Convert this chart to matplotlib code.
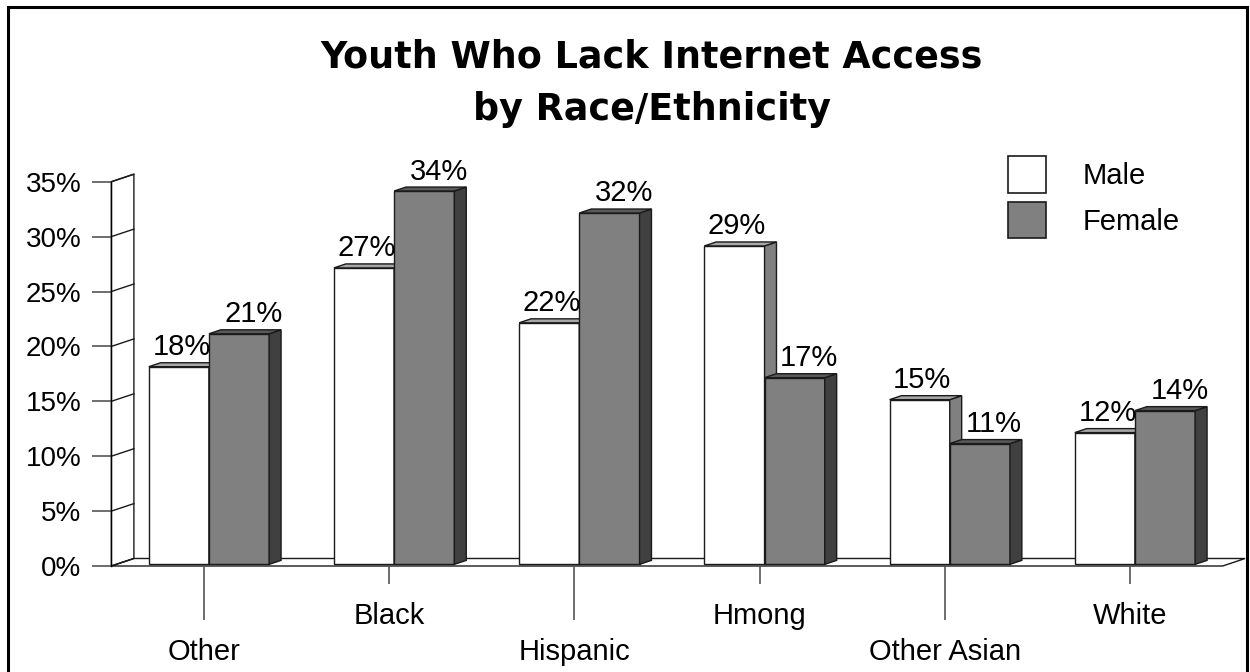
import matplotlib
matplotlib.use('Agg')
import matplotlib.pyplot as plt
from matplotlib.patches import Polygon, Patch, Rectangle
import numpy as np

# ---------------- data ----------------
categories = ['Other', 'Black', 'Hispanic', 'Hmong', 'Other Asian', 'White']
male = [18, 27, 22, 29, 15, 12]
female = [21, 34, 32, 17, 11, 14]
series_names = ['Male', 'Female']
y_ticks = [0, 5, 10, 15, 20, 25, 30, 35]
y_tick_labels = [f'{v}%' for v in y_ticks]
title_lines = ['Youth Who Lack Internet Access', 'by Race/Ethnicity']

# ---------------- style ----------------
plt.rcParams['font.family'] = ['Liberation Sans', 'DejaVu Sans']
W, H = 1250, 672
EDGE = '#1a1a1a'
TICKC = '#555555'
front_colors = ['#ffffff', '#808080']
top_colors = ['#a8a8a8', '#5a5a5a']
side_colors = ['#808080', '#404040']

fig = plt.figure(figsize=(W / 100, H / 100), dpi=100)
ax = fig.add_axes([111.4 / W, (H - 566) / H, 1111.2 / W, 384.3 / H])
ax.set_xlim(-0.5, 5.5)
ax.set_ylim(0, 35)

DX, DY = 0.1215, 0.683   # projected full depth (x units, percent)
F0, F1 = 0.22, 0.75      # depth range occupied by bars
BW = 0.325               # bar width

x0, x1 = ax.get_xlim()
ytop = ax.get_ylim()[1]

# back wall and floor
ax.add_patch(Polygon([(x0, 0), (x0, ytop), (x0 + DX, ytop + DY), (x0 + DX, DY)],
                     closed=True, fc='white', ec=EDGE, lw=1, clip_on=False, zorder=1))
ax.add_patch(Polygon([(x0, 0), (x1, 0), (x1 + DX, DY), (x0 + DX, DY)],
                     closed=True, fc='white', ec=EDGE, lw=1, clip_on=False, zorder=1))
for v in y_ticks:
    ax.plot([x0, x0 + DX], [v, v + DY], color=EDGE, lw=1, clip_on=False, zorder=1.5)

# bars
idx = np.arange(len(categories))
bdx = (F1 - F0) * DX
bdy = (F1 - F0) * DY
label_dx = [1.9, 10.3]
for s, vals in enumerate([male, female]):
    xs = idx - BW + s * BW + F0 * DX
    bars = ax.bar(xs, vals, width=BW, bottom=F0 * DY, align='edge',
                  fc=front_colors[s], ec=EDGE, lw=1, zorder=3 + s, clip_on=False)
    for rect, v in zip(bars, vals):
        xl = rect.get_x()
        w = rect.get_width()
        yb = rect.get_y()
        yt = yb + rect.get_height()
        xr = xl + w
        ax.add_patch(Polygon([(xr, yb), (xr, yt), (xr + bdx, yt + bdy), (xr + bdx, yb + bdy)],
                             closed=True, fc=side_colors[s], ec=EDGE, lw=1,
                             zorder=3 + s, clip_on=False))
        ax.add_patch(Polygon([(xl, yt), (xr, yt), (xr + bdx, yt + bdy), (xl + bdx, yt + bdy)],
                             closed=True, fc=top_colors[s], ec=EDGE, lw=1,
                             zorder=3 + s, clip_on=False))
        ax.annotate(f'{v}%', xy=(xl + w / 2, yt), xytext=(label_dx[s], 8.3),
                    textcoords='offset points', ha='center', va='baseline',
                    fontsize=21, color='black', zorder=6)

# axes / ticks
for side in ['top', 'right', 'bottom']:
    ax.spines[side].set_visible(False)
ax.spines['left'].set_color('black')
ax.spines['left'].set_linewidth(1)
ax.spines['left'].set_zorder(2)
ax.set_facecolor('none')

ax.set_yticks(y_ticks, y_tick_labels)
ax.tick_params(axis='y', length=13.7, width=1.2, color=TICKC, pad=7.9, labelsize=20)

ax.set_xticks(idx[0::2], [categories[i] for i in idx[0::2]])
ax.set_xticks(idx[1::2], [categories[i] for i in idx[1::2]], minor=True)
ax.tick_params(axis='x', which='major', length=38.9, width=1.2, color=TICKC, pad=13, labelsize=21)
ax.tick_params(axis='x', which='minor', length=13, width=1.2, color=TICKC, pad=13, labelsize=21)

# legend
handles = [Patch(fc=front_colors[0], ec=EDGE, lw=1.2), Patch(fc=front_colors[1], ec=EDGE, lw=1.2)]
fig.legend(handles=handles, labels=series_names, loc='upper left',
           bbox_to_anchor=(1008 / W, 1 - 156 / H), frameon=False, fontsize=21,
           handlelength=1.3, handleheight=1.56, handletextpad=1.27, labelspacing=0.31,
           borderpad=0, borderaxespad=0)

# title
for line, base in zip(title_lines, [68, 120]):
    fig.text(652 / W, 1 - base / H, line, ha='center', va='baseline',
             fontsize=26.3, fontweight='bold', family=['DejaVu Sans'])

# outer border
fig.add_artist(Rectangle((7.5 / W, -0.1), (1246.5 - 7.5) / W, 1 - 6.5 / H + 0.1,
                         transform=fig.transFigure, fill=False, lw=2.2, ec='black'))

fig.savefig('out.png', dpi=100)
